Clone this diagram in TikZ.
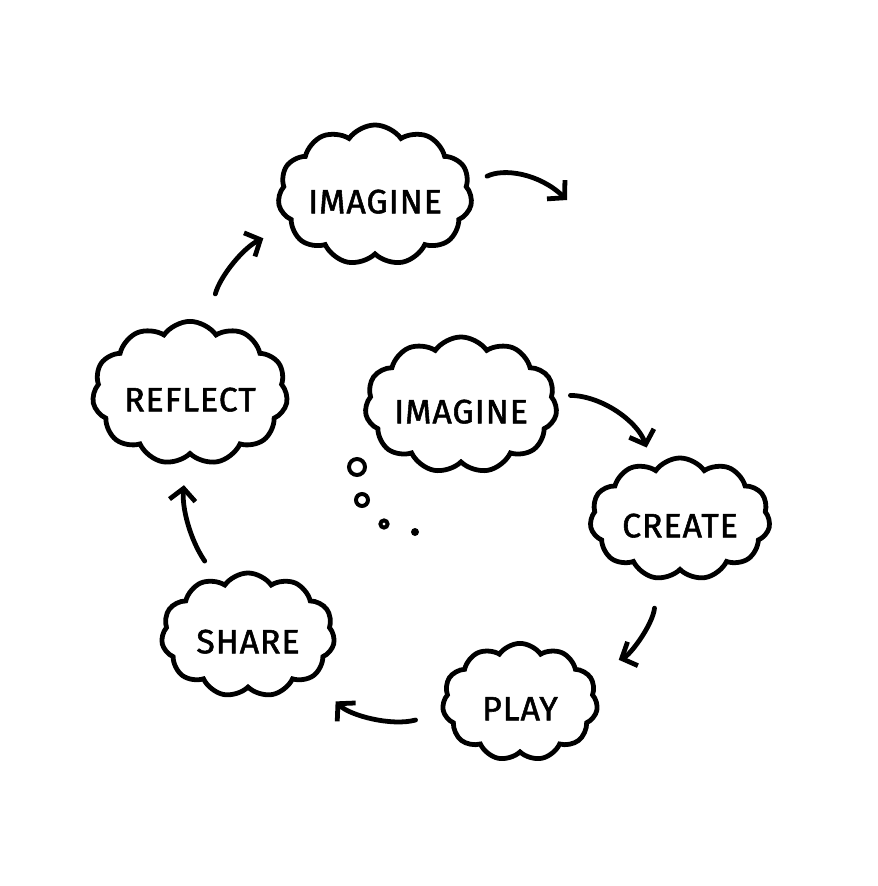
\documentclass[tikz,border=0pt]{standalone}
\usepackage{fontspec}
\setmainfont{Fira Sans}[FakeBold=1.6, LetterSpace=3]
\usetikzlibrary{shapes.symbols,arrows.meta}

\begin{document}
\begin{tikzpicture}[x=0.025cm, y=-0.025cm, line width=3.4pt,
    thought/.style = {draw, cloud, cloud puffs=11, cloud puff arc=110, cloud ignores aspect, inner sep=0pt, text height=26pt, text depth=0pt, font=\fontsize{24}{29}\selectfont},
    flow/.style = {-{Straight Barb[length=3mm,width=6.5mm]}, line cap=round},
    bubble/.style = {draw, circle, inner sep=0pt, line width=2.8pt}]
    \useasboundingbox (0,0) rectangle (878,886);

    \node[thought, minimum width=4.85cm, minimum height=3.5cm] (n_imagine) at (375,195) {IMAGINE};
    \node[thought, minimum width=4.88cm, minimum height=3.58cm] (n_reflect) at (190,393) {REFLECT};
    \node[thought, minimum width=4.8cm, minimum height=3.4cm] (n_idea) at (461,405) {IMAGINE};
    \node[thought, minimum width=4.5cm, minimum height=3.05cm] (n_create) at (680,519) {CREATE};
    \node[thought, minimum width=3.88cm, minimum height=2.93cm] (n_play) at (520,702) {PLAY};
    \node[thought, minimum width=4.33cm, minimum height=3.1cm] (n_share) at (248,635) {SHARE};
    \coordinate (c_next) at (567,200);

    % thought bubbles
    \node[bubble, minimum size=0.4cm] (b_1) at (357,467) {};
    \node[bubble, minimum size=0.3cm] (b_2) at (362,500) {};
    \node[bubble, minimum size=0.18cm] (b_3) at (384,524) {};
    \node[circle, fill, inner sep=0pt, minimum size=0.2cm] (b_4) at (415,532) {};

    \draw[flow, shorten <=0.5cm] (n_imagine.6) to[bend left=35] (c_next);
    \draw[flow, shorten <=0.4cm, shorten >=0.5cm] (n_idea.6) to[bend left=35] (n_create.117);
    \draw[flow, shorten <=0.7cm, shorten >=0.8cm] (n_create.250) to[bend left=30] (n_play.23);
    \draw[flow, shorten <=0.67cm, shorten >=0.8cm] (n_play.188) to[bend left=30] (n_share.326);
    \draw[flow, shorten <=0.55cm, shorten >=0.65cm] (n_share.119) to[bend left=20] (n_reflect.267);
    \draw[flow, shorten <=0.77cm, shorten >=0.72cm] (n_reflect.76) to[bend left=25] (n_imagine.200);
\end{tikzpicture}
\end{document}
